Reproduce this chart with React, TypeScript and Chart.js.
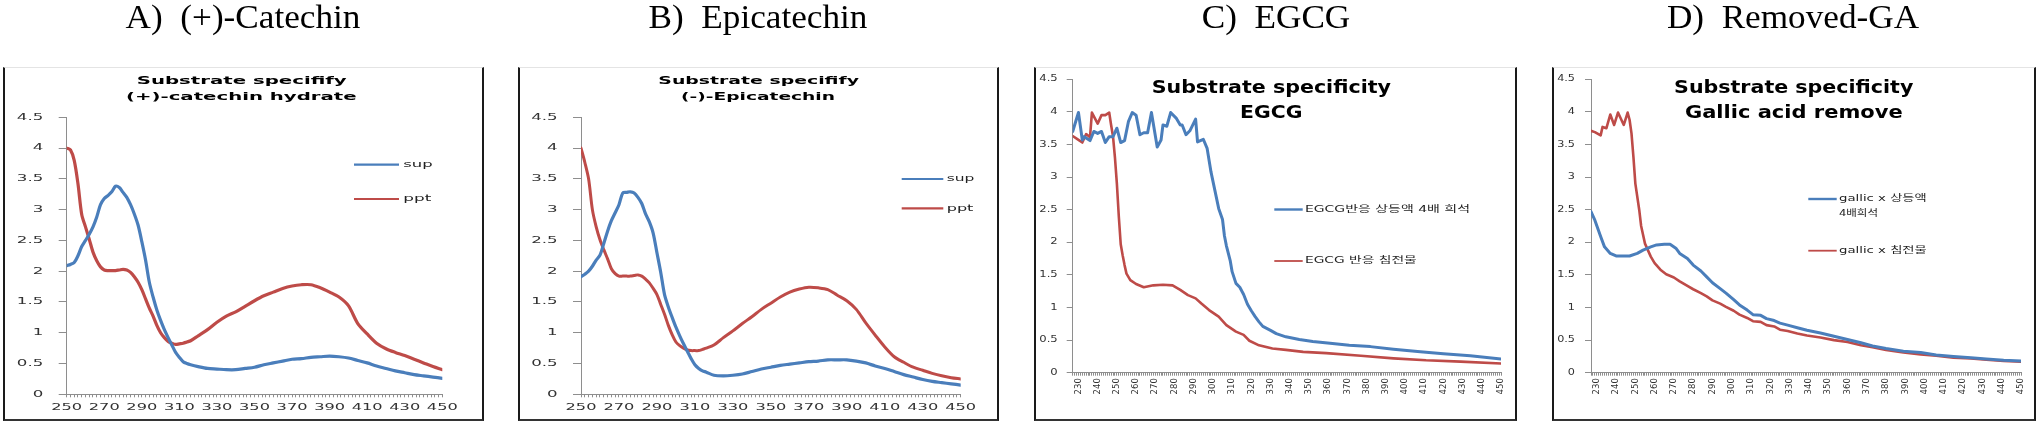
import React, { useEffect, useRef } from 'react';
import { Chart, registerables } from 'chart.js';

Chart.register(...registerables);

// ---------------- data ----------------
const abWavelengths = [250, 252, 254, 256, 258, 260, 262, 264, 266, 268, 270, 272, 274, 276, 278, 280, 282, 284, 286, 288, 290, 292, 294, 296, 298, 300, 302, 304, 306, 308, 310, 312, 314, 316, 320, 325, 330, 335, 340, 345, 350, 355, 360, 365, 370, 375, 380, 385, 390, 395, 400, 405, 410, 415, 420, 425, 430, 435, 440, 445, 450];

const catechinSup = [2.09, 2.11, 2.14, 2.25, 2.40, 2.50, 2.60, 2.72, 2.88, 3.08, 3.18, 3.23, 3.29, 3.38, 3.36, 3.28, 3.20, 3.08, 2.93, 2.75, 2.48, 2.18, 1.82, 1.58, 1.37, 1.20, 1.05, 0.92, 0.80, 0.68, 0.60, 0.53, 0.50, 0.48, 0.45, 0.42, 0.41, 0.40, 0.40, 0.42, 0.44, 0.48, 0.51, 0.54, 0.57, 0.58, 0.60, 0.61, 0.62, 0.61, 0.59, 0.55, 0.51, 0.46, 0.42, 0.38, 0.35, 0.32, 0.30, 0.28, 0.26];
const catechinPpt = [4.00, 3.97, 3.80, 3.42, 2.92, 2.72, 2.52, 2.31, 2.17, 2.07, 2.02, 2.01, 2.01, 2.01, 2.02, 2.03, 2.02, 1.98, 1.91, 1.82, 1.70, 1.55, 1.40, 1.27, 1.12, 1.00, 0.92, 0.86, 0.83, 0.81, 0.82, 0.83, 0.85, 0.87, 0.95, 1.05, 1.17, 1.27, 1.34, 1.43, 1.52, 1.60, 1.66, 1.72, 1.76, 1.78, 1.78, 1.73, 1.66, 1.58, 1.44, 1.15, 0.98, 0.83, 0.74, 0.68, 0.63, 0.57, 0.51, 0.45, 0.40];

const epicatechinSup = [1.91, 1.95, 2.00, 2.08, 2.18, 2.26, 2.45, 2.65, 2.82, 2.95, 3.08, 3.27, 3.28, 3.29, 3.27, 3.20, 3.10, 2.93, 2.80, 2.62, 2.30, 1.98, 1.62, 1.42, 1.25, 1.09, 0.95, 0.82, 0.70, 0.58, 0.48, 0.42, 0.38, 0.36, 0.31, 0.30, 0.31, 0.33, 0.37, 0.41, 0.44, 0.47, 0.49, 0.51, 0.53, 0.54, 0.56, 0.56, 0.56, 0.54, 0.51, 0.46, 0.42, 0.37, 0.32, 0.28, 0.24, 0.21, 0.19, 0.17, 0.15];
const epicatechinPpt = [4.00, 3.77, 3.50, 3.00, 2.72, 2.51, 2.35, 2.20, 2.04, 1.96, 1.92, 1.92, 1.92, 1.92, 1.93, 1.94, 1.92, 1.87, 1.81, 1.72, 1.62, 1.46, 1.30, 1.12, 0.97, 0.85, 0.79, 0.75, 0.72, 0.71, 0.71, 0.71, 0.73, 0.75, 0.80, 0.92, 1.03, 1.15, 1.26, 1.38, 1.48, 1.58, 1.66, 1.71, 1.74, 1.73, 1.70, 1.61, 1.52, 1.38, 1.16, 0.96, 0.77, 0.61, 0.52, 0.44, 0.39, 0.34, 0.30, 0.27, 0.25];

const egcgSupWl = [227, 230, 232, 233, 235, 236, 238, 240, 242, 244, 246, 248, 250, 252, 254, 256, 258, 260, 262, 264, 266, 268, 271, 273, 274, 276, 278, 281, 283, 284, 286, 288, 291, 292, 295, 297, 299, 301, 303, 305, 306, 307, 309, 310, 312, 314, 316, 318, 320, 322, 324, 326, 330, 333, 338, 345, 352, 361, 371, 382, 394, 408, 420, 434, 450];
const egcgSup = [3.70, 3.99, 3.57, 3.62, 3.58, 3.56, 3.70, 3.67, 3.70, 3.53, 3.62, 3.62, 3.75, 3.53, 3.56, 3.85, 3.99, 3.95, 3.65, 3.68, 3.68, 3.99, 3.46, 3.57, 3.80, 3.78, 3.99, 3.90, 3.80, 3.80, 3.65, 3.71, 3.89, 3.54, 3.58, 3.44, 3.08, 2.80, 2.52, 2.35, 2.10, 1.95, 1.72, 1.55, 1.37, 1.31, 1.20, 1.05, 0.95, 0.86, 0.78, 0.71, 0.65, 0.60, 0.55, 0.51, 0.48, 0.45, 0.42, 0.40, 0.36, 0.32, 0.29, 0.26, 0.21];
const egcgPptWl = [227, 230, 232, 234, 236, 237, 240, 242, 244, 246, 247, 248, 249, 250, 251, 252, 253, 254, 255, 257, 260, 264, 269, 274, 279, 283, 287, 291, 294, 298, 303, 307, 312, 316, 319, 324, 331, 338, 347, 359, 377, 394, 411, 429, 450];
const egcgPpt = [3.63, 3.57, 3.53, 3.66, 3.61, 3.99, 3.82, 3.95, 3.95, 3.99, 3.80, 3.62, 3.30, 2.90, 2.40, 1.97, 1.80, 1.65, 1.52, 1.42, 1.36, 1.31, 1.34, 1.35, 1.34, 1.27, 1.19, 1.14, 1.06, 0.96, 0.86, 0.73, 0.63, 0.58, 0.49, 0.42, 0.37, 0.35, 0.32, 0.30, 0.26, 0.22, 0.19, 0.17, 0.14];

const gallicSupWl = [227, 229, 232, 234, 237, 240, 244, 247, 251, 254, 258, 261, 265, 268, 271, 273, 277, 280, 284, 287, 290, 294, 297, 301, 304, 308, 311, 315, 318, 322, 325, 329, 334, 339, 346, 353, 360, 367, 373, 380, 389, 398, 406, 415, 424, 432, 441, 450];
const gallicSup = [2.47, 2.34, 2.09, 1.93, 1.83, 1.79, 1.79, 1.79, 1.83, 1.88, 1.93, 1.96, 1.97, 1.97, 1.91, 1.83, 1.75, 1.65, 1.56, 1.47, 1.38, 1.29, 1.22, 1.12, 1.04, 0.96, 0.89, 0.88, 0.83, 0.80, 0.76, 0.73, 0.69, 0.65, 0.61, 0.56, 0.51, 0.46, 0.41, 0.37, 0.33, 0.31, 0.27, 0.25, 0.23, 0.21, 0.19, 0.18];
const gallicPptWl = [227, 229, 232, 233, 235, 237, 239, 241, 244, 246, 247, 248, 249, 250, 252, 253, 255, 258, 260, 263, 266, 270, 273, 277, 280, 284, 287, 290, 294, 297, 301, 304, 308, 311, 315, 318, 322, 325, 329, 334, 339, 346, 353, 360, 367, 373, 380, 389, 398, 406, 415, 424, 432, 441, 450];
const gallicPpt = [3.71, 3.69, 3.64, 3.77, 3.75, 3.96, 3.80, 3.99, 3.80, 3.99, 3.88, 3.67, 3.31, 2.90, 2.50, 2.25, 1.98, 1.78, 1.68, 1.58, 1.51, 1.46, 1.40, 1.33, 1.28, 1.22, 1.17, 1.11, 1.06, 1.01, 0.95, 0.89, 0.84, 0.79, 0.78, 0.73, 0.71, 0.66, 0.64, 0.60, 0.57, 0.54, 0.50, 0.47, 0.42, 0.39, 0.35, 0.31, 0.28, 0.26, 0.23, 0.22, 0.20, 0.18, 0.17];

const yTickLabels = ['0', '0.5', '1', '1.5', '2', '2.5', '3', '3.5', '4', '4.5'];
const abXTickLabels = ['250', '270', '290', '310', '330', '350', '370', '390', '410', '430', '450'];
const cdXTickLabels = ['230', '240', '250', '260', '270', '280', '290', '300', '310', '320', '330', '340', '350', '360', '370', '380', '390', '400', '410', '420', '430', '440', '450'];

const headings = ['A)  (+)-Catechin', 'B)  Epicatechin', 'C)  EGCG', 'D)  Removed-GA'];

// ---------------- styles ----------------
const BLUE = '#4A7EBB';
const RED = '#BE4B48';
const AXIS = '#8e8e8e';
const TICK_TEXT = '#333333';
const SANS = '"DejaVu Sans", "Noto Sans CJK KR", sans-serif';

function drawText(ctx: CanvasRenderingContext2D, text: string, x: number, y: number, font: string, color: string, align: CanvasTextAlign, sx: number, targetW?: number) {
  ctx.save();
  ctx.font = font;
  ctx.fillStyle = color;
  ctx.textAlign = align;
  ctx.textBaseline = 'middle';
  let s = sx;
  if (targetW) {
    const w = ctx.measureText(text).width;
    if (w > 0) s = targetW / w;
  }
  ctx.translate(x, y);
  ctx.scale(s, 1);
  ctx.fillText(text, 0, 0);
  ctx.restore();
}

const panelTextPlugin = {
  id: 'panelText',
  afterDraw(chart: any, _args: any, o: any) {
    if (!o || !o.enabled) return;
    const ctx: CanvasRenderingContext2D = chart.ctx;
    const xs = chart.scales.x;
    const ys = chart.scales.y;
    const area = chart.chartArea;
    o.yLabels.forEach((lbl: string) => {
      drawText(ctx, lbl, area.left - o.yGap, ys.getPixelForValue(Number(lbl)), o.yFont, TICK_TEXT, 'right', o.yScaleX);
    });
    o.xLabels.forEach((lbl: string) => {
      const px = xs.getPixelForValue(Number(lbl));
      if (o.xRotate) {
        ctx.save();
        ctx.font = o.xFont;
        ctx.fillStyle = TICK_TEXT;
        ctx.textAlign = 'right';
        ctx.textBaseline = 'middle';
        ctx.translate(px, area.bottom + o.xGap);
        ctx.rotate(-Math.PI / 2);
        ctx.fillText(lbl, 0, 0);
        ctx.restore();
      } else {
        drawText(ctx, lbl, px, area.bottom + o.xGap, o.xFont, TICK_TEXT, 'center', o.xScaleX);
      }
    });
    o.title.forEach((t: any) => drawText(ctx, t.text, t.x, t.y, o.titleFont, '#000', 'center', 1, t.w));
    o.legend.forEach((it: any) => {
      const ds = chart.data.datasets[it.ds];
      ctx.save();
      ctx.strokeStyle = ds.borderColor;
      ctx.lineWidth = it.lw;
      ctx.beginPath();
      ctx.moveTo(it.x1, it.y);
      ctx.lineTo(it.x2, it.y);
      ctx.stroke();
      ctx.restore();
      const lines = String(ds.label).split('\n');
      lines.forEach((ln: string, k: number) => drawText(ctx, ln, it.tx, it.y + k * it.lh, o.legendFont, '#222', 'left', 1, it.w[k]));
    });
  },
};

type Series = { label: string; wl: number[]; values: number[]; color: string; width: number };

type Panel = {
  xMin: number; xMax: number; xStep: number;
  series: Series[];
  tension: number;
  padding: { left: number; top: number; right: number; bottom: number };
  yTickLen: number; xTickLen: number;
  text: any;
};

const panels: Panel[] = [
  {
    xMin: 250, xMax: 450, xStep: 2, tension: 0.3,
    series: [
      { label: 'sup', wl: abWavelengths, values: catechinSup, color: BLUE, width: 3.2 },
      { label: 'ppt', wl: abWavelengths, values: catechinPpt, color: RED, width: 3.2 },
    ],
    padding: { left: 58.7, top: 117.3, right: 1596.7, bottom: 26.7 },
    yTickLen: 8, xTickLen: 3,
    text: {
      enabled: true,
      yLabels: yTickLabels, xLabels: abXTickLabels,
      yGap: 23.4, yFont: `9px ${SANS}`, yScaleX: 1.85,
      xGap: 13.2, xFont: `9px ${SANS}`, xScaleX: 1.8, xRotate: false,
      titleFont: `bold 10.5px ${SANS}`,
      title: [
        { text: 'Substrate specifify', x: 241.7, y: 81.7, w: 210 },
        { text: '(+)-catechin hydrate', x: 241.3, y: 97.3, w: 230.7 },
      ],
      legendFont: `9.5px ${SANS}`,
      legend: [
        { ds: 0, x1: 354, x2: 399, y: 164.7, tx: 403.3, lw: 2.2, lh: 0, w: [29.4] },
        { ds: 1, x1: 354, x2: 399, y: 199, tx: 403.3, lw: 2.2, lh: 0, w: [28] },
      ],
    },
  },
  {
    xMin: 250, xMax: 450, xStep: 2, tension: 0.3,
    series: [
      { label: 'sup', wl: abWavelengths, values: epicatechinSup, color: BLUE, width: 3.2 },
      { label: 'ppt', wl: abWavelengths, values: epicatechinPpt, color: RED, width: 3.0 },
    ],
    padding: { left: 573, top: 117.3, right: 1078.3, bottom: 26.7 },
    yTickLen: 8, xTickLen: 3,
    text: {
      enabled: true,
      yLabels: yTickLabels, xLabels: abXTickLabels,
      yGap: 23.3, yFont: `9px ${SANS}`, yScaleX: 1.85,
      xGap: 13.2, xFont: `9px ${SANS}`, xScaleX: 1.8, xRotate: false,
      titleFont: `bold 10.5px ${SANS}`,
      title: [
        { text: 'Substrate specifify', x: 758.7, y: 81.7, w: 200.7 },
        { text: '(-)-Epicatechin', x: 758, y: 97.3, w: 154 },
      ],
      legendFont: `9.5px ${SANS}`,
      legend: [
        { ds: 0, x1: 901.7, x2: 943.3, y: 179, tx: 946.7, lw: 2.2, lh: 0, w: [27.7] },
        { ds: 1, x1: 901.7, x2: 943.3, y: 208.3, tx: 946.7, lw: 2.2, lh: 0, w: [26.7] },
      ],
    },
  },
  {
    xMin: 227, xMax: 450, xStep: 1, tension: 0,
    series: [
      { label: 'EGCG반응 상등액 4배 희석', wl: egcgSupWl, values: egcgSup, color: BLUE, width: 3 },
      { label: 'EGCG 반응 침전물', wl: egcgPptWl, values: egcgPpt, color: RED, width: 2.6 },
    ],
    padding: { left: 1066.7, top: 79.3, right: 538, bottom: 48.3 },
    yTickLen: 6, xTickLen: 3,
    text: {
      enabled: true,
      yLabels: yTickLabels, xLabels: cdXTickLabels,
      yGap: 15, yFont: `8px ${SANS}`, yScaleX: 1.45,
      xGap: 5.5, xFont: `8.5px ${SANS}`, xScaleX: 1, xRotate: true,
      titleFont: `bold 17px ${SANS}`,
      title: [
        { text: 'Substrate specificity', x: 1271.3, y: 88.3, w: 239.3 },
        { text: 'EGCG', x: 1271.2, y: 113.3, w: 62.3 },
      ],
      legendFont: `9px ${SANS}`,
      legend: [
        { ds: 0, x1: 1274.3, x2: 1302.7, y: 209.5, tx: 1305, lw: 2.4, lh: 0, w: [165] },
        { ds: 1, x1: 1274.3, x2: 1302.7, y: 261, tx: 1305, lw: 1.8, lh: 0, w: [111.7] },
      ],
    },
  },
  {
    xMin: 227, xMax: 450, xStep: 1, tension: 0,
    series: [
      { label: 'gallic x 상등액\n4배희석', wl: gallicSupWl, values: gallicSup, color: BLUE, width: 3 },
      { label: 'gallic x 침전물', wl: gallicPptWl, values: gallicPpt, color: RED, width: 2.6 },
    ],
    padding: { left: 1585, top: 79.3, right: 18, bottom: 48.3 },
    yTickLen: 6, xTickLen: 3,
    text: {
      enabled: true,
      yLabels: yTickLabels, xLabels: cdXTickLabels,
      yGap: 16, yFont: `8px ${SANS}`, yScaleX: 1.4,
      xGap: 5.5, xFont: `8.5px ${SANS}`, xScaleX: 1, xRotate: true,
      titleFont: `bold 17px ${SANS}`,
      title: [
        { text: 'Substrate specificity', x: 1793.7, y: 88.3, w: 239.3 },
        { text: 'Gallic acid remove', x: 1793.8, y: 113.3, w: 217.7 },
      ],
      legendFont: `9px ${SANS}`,
      legend: [
        { ds: 0, x1: 1808.3, x2: 1836.7, y: 199, tx: 1839, lw: 2.4, lh: 14.3, w: [87.7, 39] },
        { ds: 1, x1: 1808.3, x2: 1836.7, y: 250.7, tx: 1839, lw: 1.8, lh: 0, w: [87.7] },
      ],
    },
  },
];

const headingCenters = [242.5, 758.3, 1275.8, 1793.3];
const frames = [
  { left: 3, width: 481 },
  { left: 518, width: 481 },
  { left: 1034.3, width: 482.7 },
  { left: 1552.3, width: 483.7 },
];

function buildConfig(p: Panel): any {
  return {
    type: 'line',
    data: {
      datasets: p.series.map((s) => ({
        label: s.label,
        data: s.wl.map((w, i) => ({ x: w, y: s.values[i] })),
        borderColor: s.color,
        backgroundColor: s.color,
        borderWidth: s.width,
        pointRadius: 0,
        tension: p.tension,
        borderJoinStyle: 'round',
        borderCapStyle: 'round',
        fill: false,
      })),
    },
    options: {
      responsive: false,
      animation: false,
      events: [],
      layout: { autoPadding: false, padding: p.padding },
      plugins: {
        legend: { display: false },
        title: { display: false },
        tooltip: { enabled: false },
        panelText: p.text,
      },
      scales: {
        x: {
          type: 'linear',
          min: p.xMin,
          max: p.xMax,
          ticks: { display: false, stepSize: p.xStep, autoSkip: false },
          grid: { display: true, drawOnChartArea: false, drawTicks: true, tickLength: p.xTickLen, color: AXIS, tickColor: AXIS, lineWidth: 1 },
          border: { display: true, color: AXIS, width: 1 },
        },
        y: {
          type: 'linear',
          min: 0,
          max: 4.5,
          ticks: { display: false, stepSize: 0.5 },
          grid: { display: true, drawOnChartArea: false, drawTicks: true, tickLength: p.yTickLen, color: AXIS, tickColor: AXIS, lineWidth: 1 },
          border: { display: true, color: AXIS, width: 1 },
        },
      },
    },
    plugins: [panelTextPlugin],
  };
}

function PanelChart({ panel }: { panel: Panel }) {
  const ref = useRef<HTMLCanvasElement>(null);
  useEffect(() => {
    if (!ref.current) return;
    const chart = new Chart(ref.current, buildConfig(panel));
    return () => chart.destroy();
  }, [panel]);
  return (
    <canvas
      ref={ref}
      width={2039}
      height={424}
      style={{ position: 'absolute', left: 0, top: 0, width: 2039, height: 424 }}
    />
  );
}

export default function App() {
  return (
    <div style={{ position: 'absolute', left: 0, top: 0, width: 2039, height: 424, background: '#fff', overflow: 'hidden' }}>
      {frames.map((f, i) => (
        <div
          key={'f' + i}
          style={{
            position: 'absolute',
            left: f.left,
            top: 67,
            width: f.width,
            height: 354,
            boxSizing: 'border-box',
            borderLeft: '2px solid #1a1a1a',
            borderRight: '2px solid #1a1a1a',
            borderBottom: '2px solid #333',
            borderTop: '1px solid #e4e4e4',
          }}
        />
      ))}
      {panels.map((p, i) => (
        <PanelChart key={'c' + i} panel={p} />
      ))}
      {headings.map((h, i) => (
        <div
          key={'h' + i}
          style={{
            position: 'absolute',
            left: headingCenters[i] - 200,
            top: 0,
            width: 400,
            textAlign: 'center',
            font: '34px "Liberation Serif", "Times New Roman", serif',
            lineHeight: '34px',
            whiteSpace: 'pre',
            color: '#000',
            transform: 'scaleX(1.035)',
          }}
        >
          {h}
        </div>
      ))}
    </div>
  );
}
